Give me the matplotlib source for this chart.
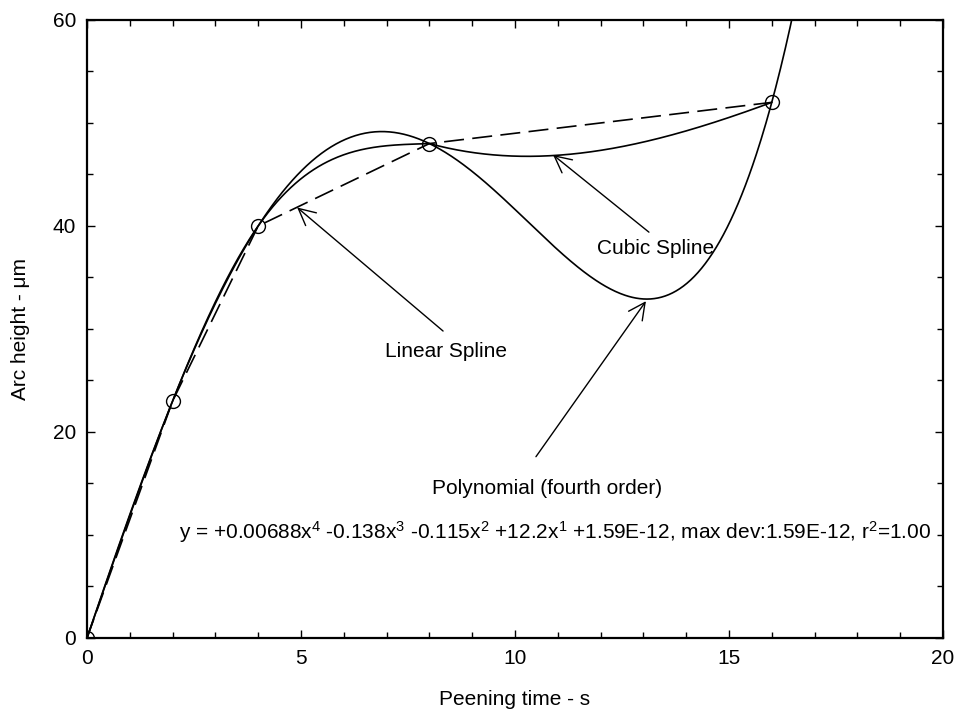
import numpy as np
import matplotlib.pyplot as plt
from matplotlib.ticker import MultipleLocator

plt.rcParams['font.family'] = ['Liberation Sans', 'DejaVu Sans']
plt.rcParams['mathtext.fontset'] = 'custom'
plt.rcParams['mathtext.rm'] = 'Liberation Sans'
plt.rcParams['mathtext.it'] = 'Liberation Sans'

# measured points
t_data = np.array([0.0, 2.0, 4.0, 8.0, 16.0])
h_data = np.array([0.0, 23.0, 40.0, 48.0, 52.0])

# slopes of the drawn spline on its last piece
last_piece_slopes = [-1.13, 1.53]

x_ticks = [0, 5, 10, 15, 20]
y_ticks = [0, 20, 40, 60]

eq_text = ('y = +0.00688x$^{4}$ -0.138x$^{3}$ -0.115x$^{2}$ +12.2x$^{1}$ '
           '+1.59E-12, max dev:1.59E-12, r$^{2}$=1.00')


def natural_spline(x, y, xs):
    n = len(x)
    h = np.diff(x)
    A = np.zeros((n, n))
    b = np.zeros(n)
    A[0, 0] = 1.0
    A[-1, -1] = 1.0
    for i in range(1, n - 1):
        A[i, i - 1] = h[i - 1]
        A[i, i] = 2 * (h[i - 1] + h[i])
        A[i, i + 1] = h[i]
        b[i] = 3 * ((y[i + 1] - y[i]) / h[i] - (y[i] - y[i - 1]) / h[i - 1])
    c = np.linalg.solve(A, b)
    out = np.empty_like(xs)
    for k, xv in enumerate(xs):
        i = int(np.clip(np.searchsorted(x, xv, side='right') - 1, 0, n - 2))
        bi = (y[i + 1] - y[i]) / h[i] - h[i] * (2 * c[i] + c[i + 1]) / 3
        di = (c[i + 1] - c[i]) / (3 * h[i])
        dx = xv - x[i]
        out[k] = y[i] + bi * dx + c[i] * dx ** 2 + di * dx ** 3
    return out


def hermite(x0, x1, y0, y1, m0, m1, xs):
    h = x1 - x0
    s = (xs - x0) / h
    h00 = 2 * s ** 3 - 3 * s ** 2 + 1
    h10 = s ** 3 - 2 * s ** 2 + s
    h01 = -2 * s ** 3 + 3 * s ** 2
    h11 = s ** 3 - s ** 2
    return h00 * y0 + h10 * h * m0 + h01 * y1 + h11 * h * m1


fig = plt.figure(figsize=(9.58, 7.13), dpi=100)
ax = fig.add_axes([0.0908, 0.1052, 0.8935, 0.8668])

# polynomial (fourth order) through the points
coef = np.polyfit(t_data, h_data, 4)
tp = np.linspace(0, 17, 600)
ax.plot(tp, np.polyval(coef, tp), color='black', lw=1.2)

# cubic spline
ts1 = np.linspace(0, 8, 300)
ts2 = np.linspace(8, 16, 300)
ys1 = natural_spline(t_data, h_data, ts1)
ys2 = hermite(t_data[3], t_data[4], h_data[3], h_data[4],
              last_piece_slopes[0], last_piece_slopes[1], ts2)
ax.plot(np.concatenate([ts1, ts2]), np.concatenate([ys1, ys2]),
        color='black', lw=1.2)

# linear spline
ax.plot(t_data, h_data, color='black', lw=1.2, dashes=(12, 5))

ax.plot(t_data, h_data, 'o', ms=10, mfc='none', mec='black', mew=1.0)

arrow = dict(arrowstyle='->', color='black', lw=1.0, mutation_scale=30,
             shrinkA=0, shrinkB=0)
ax.annotate('', xy=(4.91, 41.8), xytext=(8.32, 29.8), arrowprops=arrow)
ax.text(8.39, 27.8, 'Linear Spline', ha='center', va='center', fontsize=15)
ax.annotate('', xy=(10.89, 46.9), xytext=(13.13, 39.4), arrowprops=arrow)
ax.text(13.29, 37.8, 'Cubic Spline', ha='center', va='center', fontsize=15)
ax.annotate('', xy=(13.06, 32.7), xytext=(10.49, 17.6), arrowprops=arrow)
ax.text(10.75, 14.5, 'Polynomial (fourth order)', ha='center', va='center',
        fontsize=15)
ax.text(10.93, 10.3, eq_text, ha='center', va='center', fontsize=15)

ax.set_xlim(0, 20)
ax.set_ylim(0, 60)
ax.set_xticks(x_ticks)
ax.set_yticks(y_ticks)
ax.xaxis.set_minor_locator(MultipleLocator(1))
ax.yaxis.set_minor_locator(MultipleLocator(5))
ax.tick_params(which='both', direction='in', top=True, right=True,
               labelsize=15, width=1.0)
ax.tick_params(which='major', length=6, pad=8)
ax.tick_params(which='minor', length=4)
for s in ax.spines.values():
    s.set_linewidth(1.6)

ax.set_xlabel('Peening time - s', fontsize=15, labelpad=16)
ax.set_ylabel('Arc height - \u03bcm', fontsize=15, labelpad=16)

plt.savefig('out.png', dpi=100)
